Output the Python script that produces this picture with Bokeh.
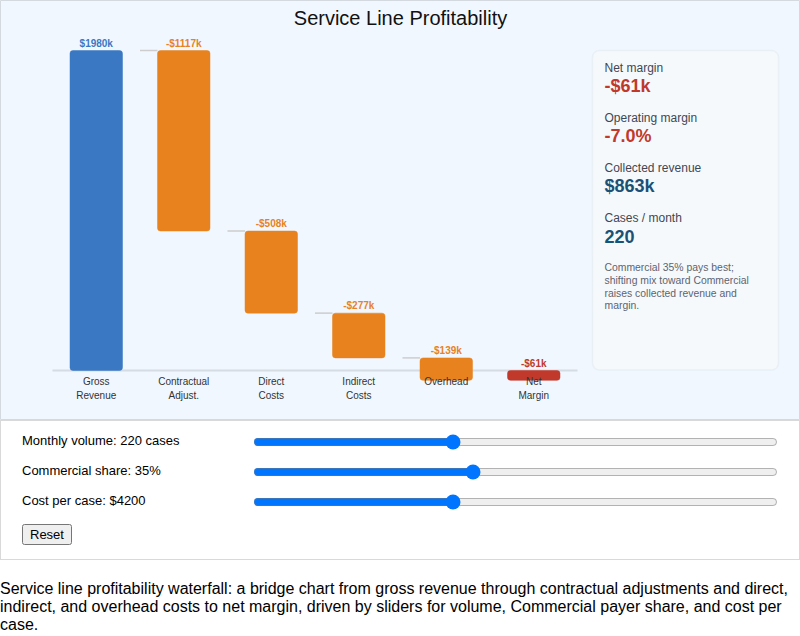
from bokeh.plotting import figure
from bokeh.models import ColumnDataSource, Label, BoxAnnotation, Div, Range1d
from bokeh.layouts import column
from bokeh.embed import file_html
from bokeh.resources import INLINE
from bokeh.core.properties import value

# ---- data -------------------------------------------------------------
categories = ["Gross Revenue", "Contractual Adjust.", "Direct Costs",
              "Indirect Costs", "Overhead", "Net Margin"]
category_labels = ["Gross\nRevenue", "Contractual\nAdjust.", "Direct\nCosts",
                   "Indirect\nCosts", "Overhead", "Net\nMargin"]
gross_revenue = 1980                      # $k
deductions = [-1117, -508, -277, -139]    # $k, contractual / direct / indirect / overhead

monthly_volume = 220
commercial_share = 35
cost_per_case = 4200
operating_margin_pct = -7.0

# ---- styling ----------------------------------------------------------
FONT = "Liberation Sans"
BG = "#f0f7ff"
C_TOTAL = "#3a78c3"
C_COST = "#e8821e"
C_NET = "#c0392b"
C_KPI = "#1a5276"
W, H = 800, 420

# ---- waterfall geometry from the values -------------------------------
running = gross_revenue
bottoms, tops, amounts = [0], [gross_revenue], [gross_revenue]
levels = []
for d in deductions:
    levels.append(running)
    tops.append(running)
    bottoms.append(running + d)
    amounts.append(d)
    running += d
net_margin = running
collected_revenue = gross_revenue + deductions[0]
bottoms.append(min(0, net_margin))
tops.append(max(0, net_margin))
amounts.append(net_margin)

colors = [C_TOTAL] + [C_COST] * len(deductions) + [C_NET]
pos = list(range(len(categories)))      # one slot per category


def fmt_k(v):
    return f"-${abs(v)}k" if v < 0 else f"${v}k"


bars = ColumnDataSource(dict(
    pos=pos, cat=categories, bottom=bottoms, top=tops, color=colors,
    label=[fmt_k(v) for v in amounts], label_y=tops,
    cat_label=category_labels, zero=[0] * len(categories),
))

# connectors run from the slot boundary to the next bar's left edge
conn = ColumnDataSource(dict(
    x0=[i + 0.5 for i in range(len(levels))],
    x1=[i + 0.7 for i in range(len(levels))],
    y=levels,
))

# scales: 87.5px per category slot, first slot starting 52px in;
# zero sits 50px above the bottom, gross revenue 50px below the top
slot_px = 87.5
x_start = -(52 + slot_px / 2) / slot_px
x_end = x_start + W / slot_px
px_per_k = 320 / gross_revenue
y_start = -(H - 370) / px_per_k
y_end = gross_revenue + 50 / px_per_k

p = figure(
    x_range=Range1d(x_start, x_end), y_range=Range1d(y_start, y_end),
    width=W, height=H, title=None,
    x_axis_location=None, y_axis_location=None,
    toolbar_location=None, output_backend="svg",
    min_border=0,
    background_fill_color=BG, border_fill_color=BG,
    outline_line_color="#d3d9df", outline_line_width=1,
)
p.grid.visible = False

# baseline across the category slots
p.segment(x0=[pos[0] - 0.5], x1=[pos[-1] + 0.5], y0=[0], y1=[0],
          line_color="#d6dce4", line_width=2)

p.segment(x0="x0", x1="x1", y0="y", y1="y", source=conn,
          line_color="#cdcdcd", line_width=1.5)

p.vbar(x="pos", bottom="bottom", top="top", width=0.6, source=bars,
       fill_color="color", line_color="color", line_width=0.5,
       border_radius=3)

p.text(x="pos", y="label_y", text="label", source=bars,
       text_color="color", text_font=value(FONT), text_font_size="10px",
       text_font_style="bold", text_align="center",
       text_baseline="middle", y_offset=-7.5)

p.text(x="pos", y="zero", text="cat_label", source=bars,
       text_color="#333333", text_font=value(FONT), text_font_size="10px",
       text_align="center", text_baseline="top", y_offset=5,
       text_line_height=1.3)

# title (screen units measured from the bottom-left corner)
p.add_layout(Label(x=W / 2, y=H - 17, x_units="screen", y_units="screen",
                   text="Service Line Profitability", text_font=FONT,
                   text_font_size="20px", text_color="#111111",
                   text_align="center", text_baseline="middle"))

# KPI card
p.add_layout(BoxAnnotation(left=592, right=778, bottom=H - 369.5, top=H - 50,
                           left_units="screen", right_units="screen",
                           bottom_units="screen", top_units="screen",
                           fill_color="#f6f9fc", fill_alpha=1,
                           line_color="#d5dde6", line_width=1.5,
                           border_radius=7, level="underlay"))

kpis = [
    ("Net margin", fmt_k(net_margin), C_NET),
    ("Operating margin", f"{operating_margin_pct:.1f}%", C_NET),
    ("Collected revenue", fmt_k(collected_revenue), C_KPI),
    ("Cases / month", f"{monthly_volume}", C_KPI),
]
for i, (name, val, col) in enumerate(kpis):
    mid = H - 67.7 - 50 * i
    p.add_layout(Label(x=604, y=mid, x_units="screen", y_units="screen",
                       text=name, text_font=FONT, text_font_size="12px",
                       text_color="#3f4754", text_baseline="middle"))
    p.add_layout(Label(x=604, y=mid - 18, x_units="screen", y_units="screen",
                       text=val, text_font=FONT, text_font_size="18px",
                       text_font_style="bold", text_color=col,
                       text_baseline="middle"))

note_lines = [f"Commercial {commercial_share}% pays best;",
              "shifting mix toward Commercial",
              "raises collected revenue and",
              "margin."]
for j, line in enumerate(note_lines):
    p.add_layout(Label(x=604, y=H - 267.3 - 12.7 * j, x_units="screen", y_units="screen",
                       text=line, text_font=FONT, text_font_size="10.4px",
                       text_color="#5d6470", text_baseline="middle"))

# ---- controls ---------------------------------------------------------
sliders = [
    (f"Monthly volume: {monthly_volume} cases", 50, 500, monthly_volume),
    (f"Commercial share: {commercial_share}%", 10, 70, commercial_share),
    (f"Cost per case: ${cost_per_case}", 2500, 7000, cost_per_case),
]
rows = []
for k, (txt, lo, hi, v) in enumerate(sliders):
    top = 12 + 30 * k
    rows.append(
        f'<div style="position:absolute;left:21px;top:{top}px;line-height:15px;">{txt}</div>'
        f'<input type="range" min="{lo}" max="{hi}" value="{v}" '
        f'style="position:absolute;left:252px;top:{top + 1}px;width:525px;margin:0;">'
    )
controls_html = (
    f'<div style="position:relative;box-sizing:border-box;width:800px;height:140px;'
    f'border:1px solid #d9d9d9;background:#ffffff;font-family:\'{FONT}\',Arial,sans-serif;'
    f'font-size:13px;color:#000;">'
    + "".join(rows)
    + f'<button style="position:absolute;left:21px;top:103px;font-family:\'{FONT}\',Arial,sans-serif;'
      f'font-size:13px;">Reset</button></div>'
)
controls = Div(text=controls_html, width=800, height=140, margin=0)

caption = Div(
    text=(f'<p style="margin:20px 0 0 0;width:800px;font-family:\'{FONT}\',Arial,sans-serif;'
          f'font-size:16px;line-height:18px;color:#000;">'
          "Service line profitability waterfall: a bridge chart from gross revenue through "
          "contractual adjustments and direct, indirect, and overhead costs to net margin, "
          "driven by sliders for volume, Commercial payer share, and cost per case.</p>"),
    width=800, margin=0,
)

layout = column(p, controls, caption, spacing=0)

with open("out.html", "w") as f:
    f.write(file_html(layout, INLINE))
